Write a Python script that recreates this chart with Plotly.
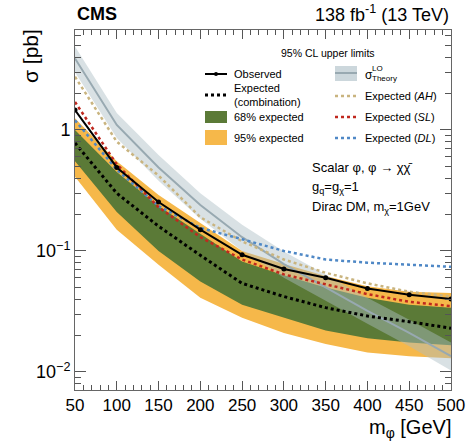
import plotly.graph_objects as go

# Mediator mass points [GeV]
mass = [50, 100, 150, 200, 250, 300, 350, 400, 450, 500]

# 95% CL upper limits on sigma [pb]
observed = [1.46, 0.49, 0.254, 0.150, 0.093, 0.071, 0.060, 0.049, 0.0435, 0.040]
expected = [0.78, 0.30, 0.160, 0.092, 0.054, 0.042, 0.034, 0.029, 0.026, 0.023]
exp68_lo = [0.55, 0.21, 0.100, 0.056, 0.036, 0.028, 0.022, 0.019, 0.0175, 0.0166]
exp68_hi = [1.00, 0.45, 0.235, 0.140, 0.082, 0.063, 0.050, 0.041, 0.036, 0.034]
exp95_lo = [0.41, 0.15, 0.077, 0.041, 0.028, 0.021, 0.017, 0.0145, 0.0135, 0.013]
exp95_hi = [1.25, 0.55, 0.290, 0.170, 0.100, 0.078, 0.062, 0.051, 0.046, 0.045]

# Expected limits of the individual channels
exp_ah = [2.75, 0.80, 0.42, 0.19, 0.120, 0.085, 0.066, 0.054, 0.046, 0.042]
exp_sl = [1.70, 0.52, 0.23, 0.13, 0.085, 0.064, 0.053, 0.044, 0.038, 0.035]
exp_dl = [1.20, 0.47, 0.235, 0.155, 0.125, 0.100, 0.085, 0.080, 0.077, 0.074]

# LO theory cross section with its uncertainty
theory = [3.9, 1.10, 0.49, 0.24, 0.130, 0.078, 0.050, 0.032, 0.021, 0.0135]
theory_lo = [3.0, 0.86, 0.38, 0.185, 0.100, 0.060, 0.039, 0.025, 0.0163, 0.0103]
theory_hi = [4.9, 1.38, 0.62, 0.300, 0.165, 0.099, 0.064, 0.041, 0.027, 0.0175]

x_ticks = [50, 100, 150, 200, 250, 300, 350, 400, 450, 500]
y_ticks = [0.01, 0.1, 1]
y_ticktext = ["10<sup>\u22122</sup>", "10<sup>\u22121</sup>", "1"]

GREEN = "#5b7a37"
YELLOW = "#f6b84a"
THEORY_FILL = "rgba(170,188,196,0.45)"
THEORY_LINE = "#98a9b1"
AH_COL = "#c9b47f"
SL_COL = "#c0281e"
DL_COL = "#4f88c6"

W, H = 476, 443
L, R, T, B = 75, 25, 30, 53
PW, PH = W - L - R, H - T - B


def px(x):
    return (x - L) / PW


def py(y):
    return (H - B - y) / PH


fig = go.Figure()


def band(lo, hi, color):
    fig.add_trace(go.Scatter(
        x=mass + mass[::-1], y=hi + lo[::-1], fill="toself", fillcolor=color,
        mode="lines", line=dict(width=0), hoverinfo="skip", showlegend=False))


band(exp95_lo, exp95_hi, YELLOW)
band(exp68_lo, exp68_hi, GREEN)
band(theory_lo, theory_hi, THEORY_FILL)

fig.add_trace(go.Scatter(x=mass, y=theory, mode="lines",
                         line=dict(color=THEORY_LINE, width=2), showlegend=False))
fig.add_trace(go.Scatter(x=mass, y=exp_ah, mode="lines",
                         line=dict(color=AH_COL, width=2.5, dash="dot"), showlegend=False))
fig.add_trace(go.Scatter(x=mass, y=exp_dl, mode="lines",
                         line=dict(color=DL_COL, width=2.5, dash="dot"), showlegend=False))
fig.add_trace(go.Scatter(x=mass, y=exp_sl, mode="lines",
                         line=dict(color=SL_COL, width=2.5, dash="dot"), showlegend=False))
fig.add_trace(go.Scatter(x=mass, y=expected, mode="lines",
                         line=dict(color="black", width=3, dash="dot"), showlegend=False))
fig.add_trace(go.Scatter(x=mass, y=observed, mode="lines+markers",
                         line=dict(color="black", width=2),
                         marker=dict(color="black", size=5), showlegend=False))

# Legend, drawn by hand in two columns
shapes = []
ann = []
FONT = "Liberation Sans, Arial, sans-serif"


def text(x, y, s, size=11, xanchor="left", yanchor="middle", **kw):
    ann.append(dict(x=px(x), y=py(y), xref="paper", yref="paper", text=s,
                    showarrow=False, xanchor=xanchor, yanchor=yanchor,
                    font=dict(family=FONT, size=size, color="black"), **kw))


def hline(x0, x1, y, color, width, dash="solid"):
    shapes.append(dict(type="line", xref="paper", yref="paper", x0=px(x0), x1=px(x1),
                       y0=py(y), y1=py(y), line=dict(color=color, width=width, dash=dash)))


def box(x0, x1, y0, y1, color):
    shapes.append(dict(type="rect", xref="paper", yref="paper", x0=px(x0), x1=px(x1),
                       y0=py(y1), y1=py(y0), fillcolor=color, line=dict(width=0)))


text(328, 53, "95% CL upper limits", size=10.5, xanchor="center")

c1a, c1b, c1t = 205, 227, 232
hline(c1a, c1b, 74, "black", 2)
shapes.append(dict(type="circle", xref="paper", yref="paper",
                   x0=px(214), x1=px(218), y0=py(76), y1=py(72),
                   fillcolor="black", line=dict(width=0)))
text(c1t, 74, "Observed")
hline(c1a, c1b, 95, "black", 3, "dot")
text(c1t, 88, "Expected")
text(c1t, 102, "(combination)")
box(c1a, c1b, 111, 123, GREEN)
text(c1t, 117, "68% expected")
box(c1a, c1b, 130, 145, YELLOW)
text(c1t, 138, "95% expected")

c2a, c2b, c2t = 335, 357, 363
box(c2a, c2b, 66, 81, "rgba(170,188,196,0.6)")
hline(c2a, c2b, 73, THEORY_LINE, 2)
text(c2t, 75, "\u03c3", size=12)
text(c2t + 7, 69, "LO", size=8)
text(c2t + 7, 79, "Theory", size=8)
hline(c2a, c2b, 96, AH_COL, 2.5, "dot")
text(c2t, 96, "Expected (<i>AH</i>)")
hline(c2a, c2b, 117, SL_COL, 2.5, "dot")
text(c2t, 117, "Expected (<i>SL</i>)")
hline(c2a, c2b, 138, DL_COL, 2.5, "dot")
text(c2t, 138, "Expected (<i>DL</i>)")

# Model description
text(310, 167, "Scalar \u03c6, \u03c6 \u2192 \u03c7\u03c7\u0304", size=13)
text(310, 187, "g<sub>q</sub>=g<sub>\u03c7</sub>=1", size=13)
text(310, 207, "Dirac DM, m<sub>\u03c7</sub>=1GeV", size=13)

# Header
text(L, 14, "<b>CMS</b>", size=18)
text(W - R, 14, "138 fb<sup>-1</sup> (13 TeV)", size=18, xanchor="right")

# Axis titles
text(30, 27, "\u03c3 [pb]", size=21, xanchor="center", yanchor="top", textangle=-90)
text(W - R + 2, 443, "m<sub>\u03c6</sub> [GeV]", size=20, xanchor="right", yanchor="bottom")

x_minor = [v for v in range(60, 500, 10) if v % 50 != 0]
y_minor = [m * 10 ** e for e in range(-3, 1) for m in range(2, 10)]

fig.update_layout(
    width=W, height=H,
    margin=dict(l=L, r=R, t=T, b=B),
    paper_bgcolor="white", plot_bgcolor="white",
    shapes=shapes, annotations=ann,
    font=dict(family=FONT, color="black"),
    xaxis=dict(range=[50, 500], tickvals=x_ticks, ticks="inside", ticklen=9,
               tickcolor="#555", showgrid=False, zeroline=False,
               showline=True, linecolor="#666", linewidth=1, mirror="ticks",
               tickfont=dict(size=17, family=FONT),
               minor=dict(tickvals=x_minor, ticks="inside", ticklen=5, tickcolor="#555")),
    yaxis=dict(type="log", range=[-2.149, 0.826], tickvals=y_ticks, ticktext=y_ticktext,
               ticks="inside", ticklen=11, tickcolor="#555", showgrid=False,
               zeroline=False, showline=True, linecolor="#666", linewidth=1,
               mirror="ticks", tickfont=dict(size=18, family=FONT),
               minor=dict(tickvals=y_minor, ticks="inside", ticklen=6, tickcolor="#555")),
)

fig.write_html("out.html")
